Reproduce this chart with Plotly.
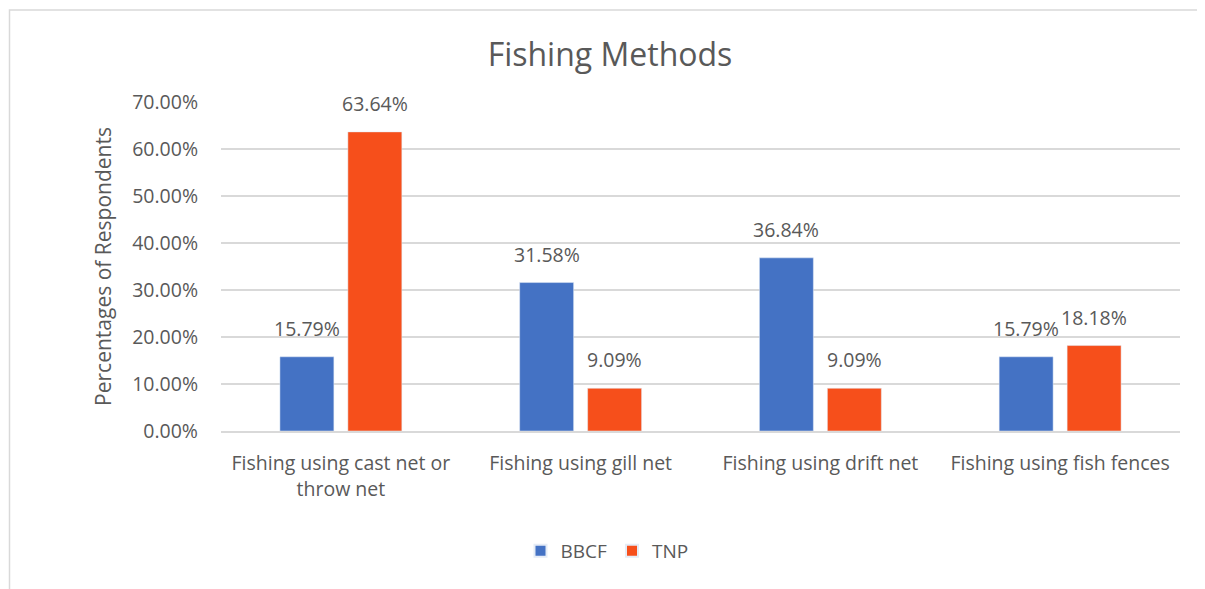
import plotly.graph_objects as go

# Fishing methods survey data
categories = [
    "Fishing using cast net or<br>throw net",
    "Fishing using gill net",
    "Fishing using drift net",
    "Fishing using fish fences",
]
bbcf = [0.1579, 0.3158, 0.3684, 0.1579]
tnp = [0.6364, 0.0909, 0.0909, 0.1818]
y_ticks = [0, 0.1, 0.2, 0.3, 0.4, 0.5, 0.6, 0.7]

font_family = "Open Sans, Liberation Sans, sans-serif"
grey = "#595959"

# page body adds 8px offset, so figure is 8px smaller
W, H = 1197, 581
L, T, R, B = 213, 94, 25, 158
pw, ph = W - L - R, H - T - B

fig = go.Figure()
series = [("BBCF", bbcf, "#4472C4", -34), ("TNP", tnp, "#F64F1B", 34)]
for name, vals, col, shift in series:
    fig.add_trace(go.Bar(x=categories, y=vals, name=name, marker_color=col))
    # value labels above bars
    for cat, v in zip(categories, vals):
        fig.add_annotation(x=cat, y=v, text=f"{v:.2%}", showarrow=False,
                           xshift=shift, yshift=13, yanchor="bottom",
                           font=dict(size=19.5, color=grey))

fig.update_layout(
    width=W, height=H,
    margin=dict(l=L, r=R, t=T, b=B),
    paper_bgcolor="white", plot_bgcolor="white",
    font=dict(family=font_family, color=grey),
    title=dict(text="Fishing Methods", x=(610 - 8) / W, xanchor="center",
               y=1 - (55 - 8) / H, yanchor="middle",
               font=dict(size=32, color=grey)),
    barmode="group", bargap=0.433, bargroupgap=0.206,
    showlegend=True,
    legend=dict(orientation="h", x=(607 - 8 - L) / pw, xanchor="center",
                y=-(551 - 431) / ph, yanchor="middle",
                font=dict(size=19, color=grey), itemsizing="constant"),
    xaxis=dict(tickfont=dict(size=19.5, color=grey), showline=True,
               linecolor="#D9D9D9", linewidth=1.5, ticks="",
               ticklabelstandoff=14),
    yaxis=dict(range=[0, 0.7], tickvals=y_ticks, tickformat=".2%",
               tickfont=dict(size=19.5, color=grey), showgrid=True,
               gridcolor="#D9D9D9", gridwidth=1.5, zeroline=False,
               ticklabelstandoff=22,
               title=dict(text="Percentages of Respondents",
                          font=dict(size=21, color=grey), standoff=14)),
)

# chart frame border
fig.add_shape(type="rect", xref="paper", yref="paper",
              x0=-(L - 1.5) / pw, x1=(1204 - 8 - L) / pw,
              y0=-(600 - 431) / ph, y1=1 + (102 - 10) / ph,
              line=dict(color="#D9D9D9", width=1.5), fillcolor="rgba(0,0,0,0)")

fig.write_html("out.html")
